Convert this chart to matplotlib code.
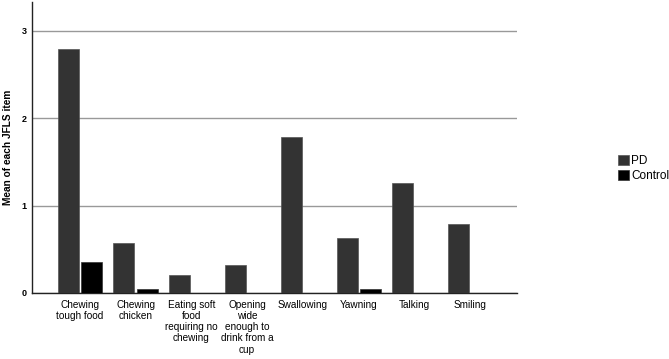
import matplotlib
matplotlib.use("Agg")
import matplotlib.pyplot as plt
import numpy as np

categories = ["Chewing\ntough food", "Chewing\nchicken", "Eating soft\nfood\nrequiring no\nchewing",
              "Opening\nwide\nenough to\ndrink from a\ncup", "Swallowing", "Yawning", "Talking", "Smiling"]
pd_values = [2.79, 0.57, 0.21, 0.32, 1.79, 0.63, 1.26, 0.79]
control_values = [0.35, 0.05, 0.0, 0.0, 0.0, 0.05, 0.0, 0.0]
series_names = ["PD", "Control"]
yticks = [0, 1, 2, 3]

plt.rcParams['font.family'] = ['Liberation Sans', 'DejaVu Sans']

fig = plt.figure(figsize=(6.69, 3.59), dpi=100)
ax = fig.add_axes([0.048, 0.184, 0.725, 0.81])

x = np.arange(len(categories))
w = 0.376
gap = 0.02
ax.bar(x - w/2 - gap, pd_values, width=w, color="#333333", edgecolor="#555555", linewidth=0.5,
       label=series_names[0], zorder=3)
ax.bar(x + w/2 + gap, control_values, width=w, color="#000000", edgecolor="#333333", linewidth=0.5,
       label=series_names[1], zorder=3)

ax.set_xlim(-0.855, 7.84)
ax.set_ylim(0, 3.33)
ax.set_yticks(yticks)
ax.set_yticklabels([str(t) for t in yticks], fontsize=6.5, fontweight='bold')
ax.set_xticks(x)
ax.set_xticklabels(categories, fontsize=7.2, linespacing=1.15)
ax.tick_params(axis='y', length=0, pad=4)
ax.tick_params(axis='x', length=0, pad=5)
ax.yaxis.grid(True, color="#999999", linewidth=1.0, zorder=0)
ax.set_axisbelow(True)
for s in ["top", "right"]:
    ax.spines[s].set_visible(False)
ax.spines["left"].set_color("#222222")
ax.spines["bottom"].set_color("#222222")
ax.spines["left"].set_linewidth(1.0)
ax.spines["bottom"].set_linewidth(1.0)

ax.set_ylabel("Mean of each JFLS item", fontsize=7.3, fontweight='bold', labelpad=6)

leg = fig.legend(loc="upper left", bbox_to_anchor=(0.915, 0.585), frameon=False, fontsize=8.5,
                 handlelength=0.9, handleheight=0.9, handletextpad=0.2, labelspacing=0.25,
                 borderpad=0)

fig.savefig("out.png", dpi=100)
